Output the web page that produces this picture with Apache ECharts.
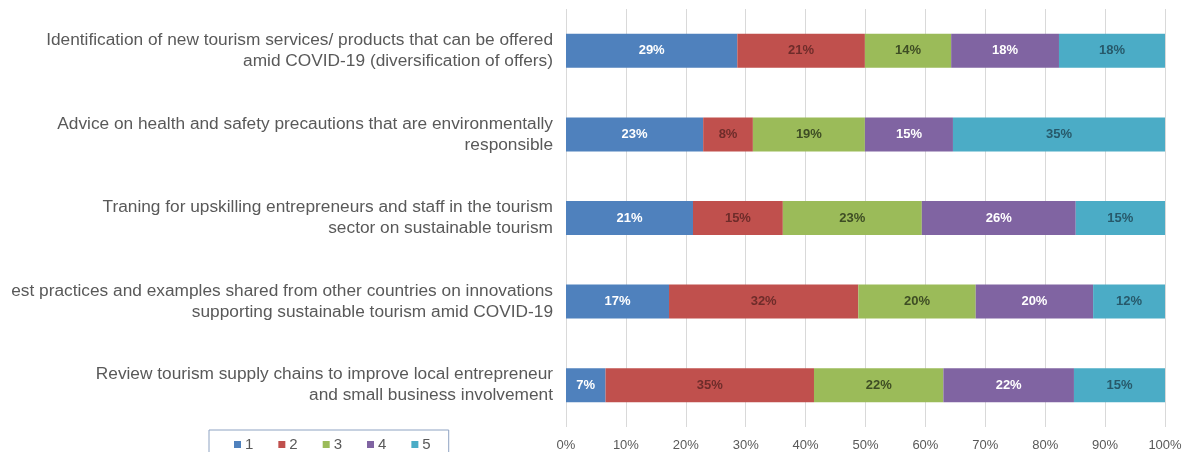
<!DOCTYPE html>
<html>
<head>
<meta charset="utf-8">
<script src="https://cdn.jsdelivr.net/npm/echarts@6/dist/echarts.min.js"></script>
<style>
html,body{margin:0;padding:0;background:#fff;}
#chart{width:1190px;height:452px;}
</style>
</head>
<body>
<div id="chart"></div>
<script>
const categories = [
  "Identification of new tourism services/ products that can be offered\namid COVID-19 (diversification of offers)",
  "Advice on health and safety precautions that are environmentally\nresponsible",
  "Traning for upskilling entrepreneurs and staff in the tourism\nsector on sustainable tourism",
  "est practices and examples shared from other countries on innovations\nsupporting sustainable tourism amid COVID-19",
  "Review tourism supply chains to improve local entrepreneur\nand small business involvement"
];
const seriesNames = ["1", "2", "3", "4", "5"];
const level1 = [28.6, 22.9, 21.2, 17.2, 6.6];
const level2 = [21.3, 8.3, 15.0, 31.6, 34.8];
const level3 = [14.4, 18.7, 23.2, 19.6, 21.6];
const level4 = [18.0, 14.7, 25.7, 19.6, 21.8];
const level5 = [17.7, 35.4, 14.9, 12.0, 15.2];
const xTicks = [0, 10, 20, 30, 40, 50, 60, 70, 80, 90, 100];

const colors = ["#4F81BD", "#C0504D", "#9BBB59", "#8064A2", "#4BACC6"];
const labelColors = ["#ffffff", "#6e2c2a", "#3e4d24", "#ffffff", "#27596a"];
const allData = [level1, level2, level3, level4, level5];

const chart = echarts.init(document.getElementById('chart'));
chart.setOption({
  animation: false,
  backgroundColor: '#ffffff',
  grid: { left: 566, right: 25, top: 9, bottom: 25 },
  legend: {
    data: seriesNames,
    left: 209,
    top: 430,
    orient: 'horizontal',
    itemWidth: 7,
    itemHeight: 7,
    itemGap: 25,
    padding: [7, 18, 10, 25],
    borderColor: '#8ea3c2',
    borderWidth: 1,
    icon: 'rect',
    textStyle: { color: '#595959', fontSize: 15, fontFamily: 'Liberation Sans', padding: [0, 0, 0, -1] }
  },
  xAxis: {
    type: 'value',
    min: xTicks[0],
    max: xTicks[xTicks.length - 1],
    interval: 10,
    axisLine: { show: false },
    axisTick: { show: false },
    splitLine: { lineStyle: { color: '#d9d9d9', width: 1 } },
    axisLabel: { formatter: '{value}%', color: '#595959', fontSize: 13, fontFamily: 'Liberation Sans', margin: 12 }
  },
  yAxis: {
    type: 'category',
    inverse: true,
    data: categories,
    axisLine: { show: false },
    axisTick: { show: false },
    axisLabel: {
      color: '#595959', fontSize: 17.3, fontFamily: 'Liberation Sans',
      lineHeight: 21, align: 'right', margin: 13
    }
  },
  series: allData.map((d, i) => ({
    name: seriesNames[i],
    type: 'bar',
    stack: 'total',
    barWidth: 34,
    data: d,
    itemStyle: { color: colors[i] },
    label: {
      show: true,
      position: 'inside',
      formatter: p => Math.round(p.value) + '%',
      color: labelColors[i],
      fontSize: 13,
      fontWeight: 'bold',
      fontFamily: 'Liberation Sans'
    }
  }))
});
</script>
</body>
</html>
